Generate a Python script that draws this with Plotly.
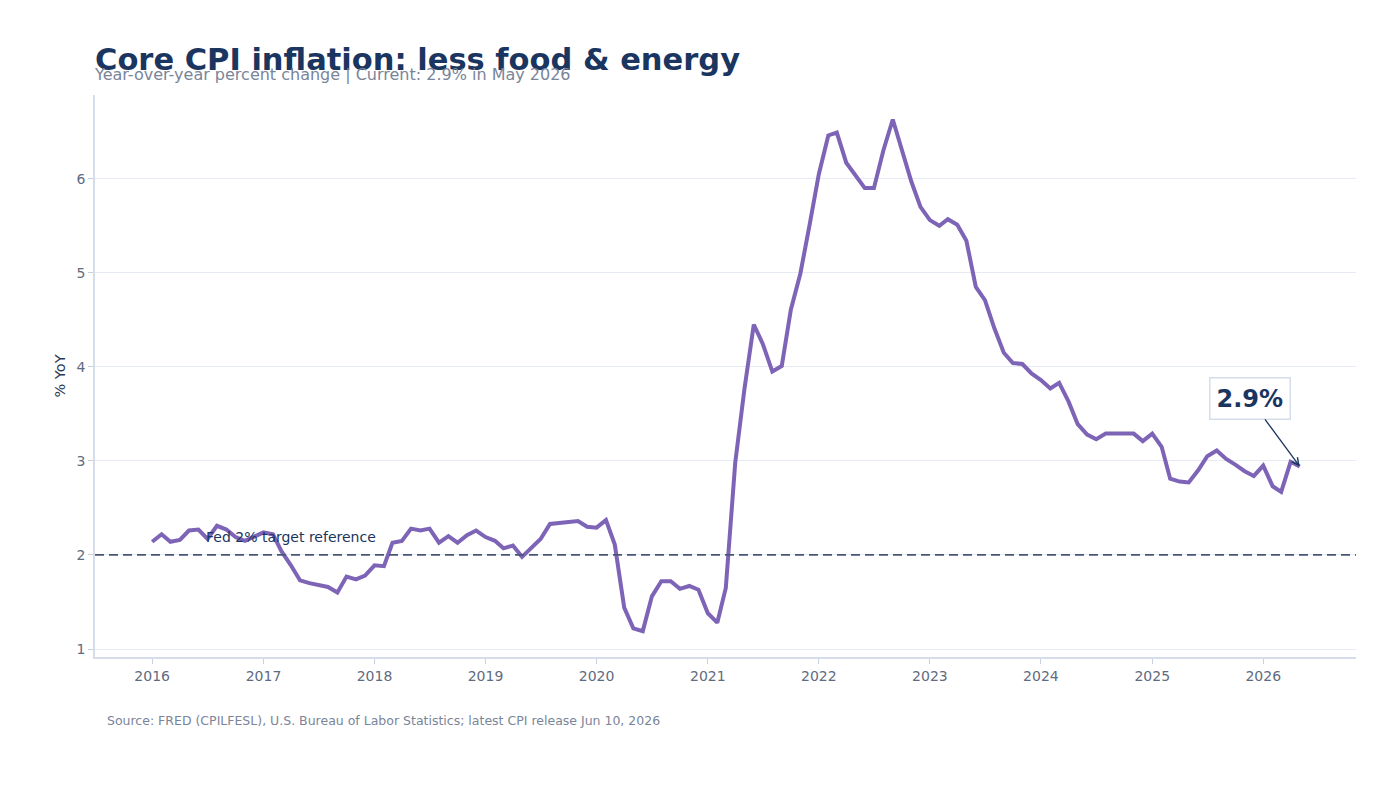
import plotly.graph_objects as go
import pandas as pd

dates = pd.date_range("2016-01-01", "2026-05-01", freq="MS")

core_cpi_yoy = [
    # 2016
    2.14, 2.22, 2.14, 2.16, 2.26, 2.27, 2.17, 2.31, 2.27, 2.19, 2.15, 2.19,
    # 2017
    2.24, 2.22, 2.04, 1.89, 1.73, 1.70, 1.68, 1.66, 1.60, 1.77, 1.74, 1.78,
    # 2018
    1.89, 1.88, 2.13, 2.15, 2.28, 2.26, 2.28, 2.13, 2.20, 2.13, 2.21, 2.26,
    # 2019
    2.19, 2.15, 2.07, 2.10, 1.98, 2.07, 2.17, 2.33, 2.34, 2.35, 2.36, 2.30,
    # 2020
    2.29, 2.37, 2.11, 1.44, 1.22, 1.19, 1.56, 1.72, 1.72, 1.64, 1.67, 1.63,
    # 2021
    1.38, 1.28, 1.65, 2.98, 3.76, 4.45, 4.24, 3.95, 4.01, 4.61, 4.99, 5.50,
    # 2022
    6.05, 6.46, 6.49, 6.17, 6.03, 5.90, 5.90, 6.30, 6.63, 6.29, 5.97, 5.70,
    # 2023
    5.56, 5.50, 5.57, 5.51, 5.34, 4.85, 4.71, 4.41, 4.15, 4.04, 4.03, 3.93,
    # 2024
    3.86, 3.77, 3.83, 3.63, 3.39, 3.28, 3.23, 3.29, 3.29, 3.30, 3.29, 3.21,
    # 2025
    3.29, 3.15, 2.81, 2.78, 2.77, 2.90, 3.05, 3.11, 3.02, 2.96, 2.89, 2.84,
    # 2026
    2.95, 2.73, 2.67, 2.99, 2.94,
]

fed_target = 2.0
year_ticks = [f"{y}-01-01" for y in range(2016, 2027)]
year_labels = [str(y) for y in range(2016, 2027)]

FONT = "DejaVu Sans"
NAVY = "#1a3560"
GREY = "#7a8599"
TICK = "#5f6b80"
LINE = "#7d64b6"

PLOT_W = 1261
PLOT_H = 562

fig = go.Figure()
fig.add_trace(go.Scatter(
    x=dates, y=core_cpi_yoy, mode="lines",
    line=dict(color=LINE, width=4),
    hoverinfo="skip", showlegend=False,
))

fig.add_hline(y=fed_target, line=dict(color="#4a5578", width=1.8, dash="9px,5px"))

fig.add_annotation(
    x="2016-06-21", y=2.19, xref="x", yref="y",
    text="Fed 2% target reference", showarrow=False,
    xanchor="left", yanchor="middle",
    font=dict(family=FONT, size=14, color=NAVY),
)

fig.add_annotation(
    x=dates[-1], y=core_cpi_yoy[-1], xref="x", yref="y",
    text=f"<b>{core_cpi_yoy[-1]:.1f}%</b>",
    showarrow=True, arrowhead=5, arrowsize=1.1, arrowwidth=1.3, arrowcolor=NAVY,
    ax=-50, ay=-68,
    bgcolor="white", bordercolor="#d5dcea", borderwidth=1.5, borderpad=6,
    font=dict(family=FONT, size=24, color=NAVY),
)

fig.add_annotation(
    x=-3 / PLOT_W, y=(657 - 74) / PLOT_H, xref="paper", yref="paper",
    text="Year-over-year percent change | Current: 2.9% in May 2026",
    showarrow=False, xanchor="left", yanchor="middle",
    font=dict(family=FONT, size=16, color=GREY),
)

fig.add_annotation(
    x=10 / PLOT_W, y=(657 - 720) / PLOT_H, xref="paper", yref="paper",
    text="Source: FRED (CPILFESL), U.S. Bureau of Labor Statistics; latest CPI release Jun 10, 2026",
    showarrow=False, xanchor="left", yanchor="middle",
    font=dict(family=FONT, size=12.5, color=GREY),
)

fig.update_layout(
    width=1400, height=788,
    margin=dict(l=87, r=52, t=87, b=139),
    paper_bgcolor="white", plot_bgcolor="white",
    font=dict(family=FONT, color=TICK),
    title=dict(
        text="<b>Core CPI inflation: less food & energy</b>",
        x=87 / 1400, xref="container", xanchor="left",
        y=1 - 51 / 788, yref="container", yanchor="middle",
        font=dict(family=FONT, size=30.5, color=NAVY),
    ),
    xaxis=dict(
        range=["2015-06-27", "2026-11-02"],
        tickvals=year_ticks, ticktext=year_labels,
        showgrid=False, zeroline=False,
        showline=True, linecolor="#d5dcea", linewidth=1.5,
        ticks="outside", ticklen=5, tickcolor="#c8d0e0",
        tickfont=dict(family=FONT, size=14, color=TICK),
    ),
    yaxis=dict(
        range=[0.915, 6.89],
        tickvals=[1, 2, 3, 4, 5, 6],
        showgrid=True, gridcolor="#e6eaf4", gridwidth=1,
        zeroline=False,
        showline=True, linecolor="#d5dcea", linewidth=1.5,
        ticks="outside", ticklen=5, tickcolor="#c8d0e0",
        tickfont=dict(family=FONT, size=14, color=TICK),
        title=dict(text="% YoY", standoff=7, font=dict(family=FONT, size=14.5, color="#2a3a5a")),
    ),
)

fig.write_html("out.html")
